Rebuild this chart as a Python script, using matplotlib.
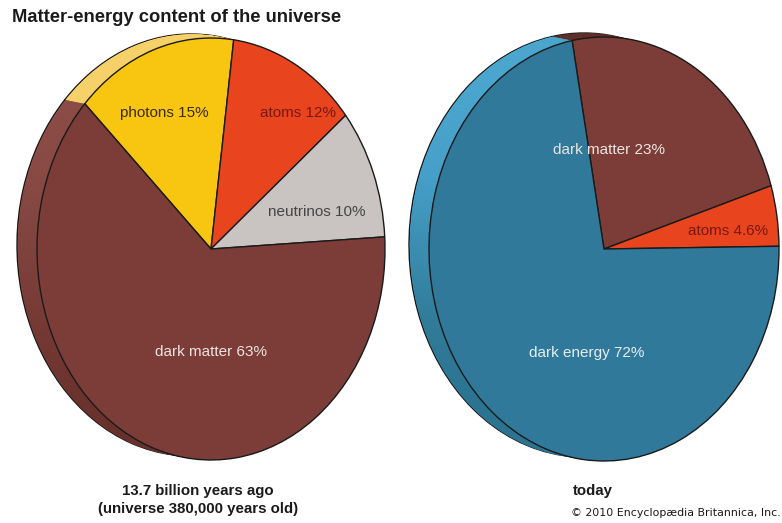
import matplotlib
matplotlib.use("Agg")
import matplotlib.pyplot as plt
import numpy as np
from matplotlib.colors import LinearSegmentedColormap

plt.rcParams['font.family'] = ['Liberation Sans', 'DejaVu Sans']

# early universe (13.7 billion years ago)
early_labels = ['photons', 'atoms', 'neutrinos', 'dark matter']
early_pct = [15, 12, 10, 63]
early_text = ['photons 15%', 'atoms 12%', 'neutrinos 10%', 'dark matter 63%']
early_face = ['#f8c611', '#e8451f', '#c9c4c1', '#7c3d38']
early_rim = ['#f6d16a', '#e8451f', '#c9c4c1', '#7a3c37']
early_txtcol = ['#3b2a12', '#7a1710', '#444444', '#ece4e0']

# today
today_labels = ['dark matter', 'atoms', 'dark energy']
today_pct = [23, 4.6, 72]
today_text = ['dark matter 23%', 'atoms 4.6%', 'dark energy 72%']
today_face = ['#7c3d38', '#e8451f', '#31799a']
today_rim = ['#5e2e28', '#e8451f', '#3a8db3']
today_txtcol = ['#ece4e0', '#7a1710', '#e6eef2']

W, H = 782, 523
fig = plt.figure(figsize=(W / 100, H / 100), dpi=100)
fig.patch.set_facecolor('white')


def pie_axes(cx, cy, a, b, lim=1.2):
    # axes placed so a unit circle becomes an ellipse with semi axes a, b (pixels)
    w, h = 2 * lim * a, 2 * lim * b
    return fig.add_axes([(cx - w / 2) / W, (H - cy - h / 2) / H, w / W, h / H])


def draw_disc(ax, vals, face, rim, start, a, b, shade_idx, shade_cols,
              off=(-20, 4), steps=24):
    dx, dy = off[0] / a, off[1] / b
    cmap = LinearSegmentedColormap.from_list('rim', shade_cols)
    grad = np.linspace(0, 1, 256).reshape(-1, 1)
    for k, i in enumerate(range(steps, 0, -1)):
        t = i / steps
        z = 1 + k * 0.01
        lw = 1.0 if i == steps else 0
        ws, _ = ax.pie(vals, colors=rim, startangle=start, counterclock=False,
                       center=(dx * t, dy * t),
                       wedgeprops=dict(edgecolor='#1a1a1a', linewidth=lw, zorder=z))
        im = ax.imshow(grad, cmap=cmap, origin='lower', aspect='auto',
                       extent=(-1.3, 1.3, -1.05, 1.05), zorder=z + 0.005)
        im.set_clip_path(ws[shade_idx])
        if i == steps:
            # keep the outer outline visible above the shading
            for w in ws:
                w.set_zorder(z + 0.008)
                w.set_facecolor('none')
            ax.pie(vals, colors=rim, startangle=start, counterclock=False,
                   center=(dx * t, dy * t),
                   wedgeprops=dict(linewidth=0, zorder=z - 0.005))
    ax.pie(vals, colors=face, startangle=start, counterclock=False,
           wedgeprops=dict(edgecolor='#1a1a1a', linewidth=1.0, zorder=2))
    ax.set_aspect('auto')
    ax.set_xlim(-1.2, 1.2)
    ax.set_ylim(-1.2, 1.2)
    ax.axis('off')


# left disc
aL, bL = 174, 211
ax1 = pie_axes(211, 249, aL, bL)
draw_disc(ax1, early_pct, early_face, early_rim, 136.5, aL, bL,
          3, ['#5c2b27', '#763a35', '#8e4f49', '#94544e'])
early_pos = [(-0.27, 0.645), (0.50, 0.645), (0.61, 0.175), (0.0, -0.49)]
for (x, y), s, c in zip(early_pos, early_text, early_txtcol):
    ax1.text(x, y, s, ha='center', va='center', fontsize=11, color=c, zorder=5)

# right disc
aR, bR = 175, 212
ax2 = pie_axes(604, 249, aR, bR)
draw_disc(ax2, today_pct, today_face, today_rim, 100.5, aR, bR,
          2, ['#24657e', '#2f7893', '#4aa5cf', '#55b4dc'])
today_pos = [(0.03, 0.467), (0.71, 0.085), (-0.10, -0.49)]
for (x, y), s, c in zip(today_pos, today_text, today_txtcol):
    ax2.text(x, y, s, ha='center', va='center', fontsize=11, color=c, zorder=5)

fig.text(12 / W, 1 - 17 / H, 'Matter-energy content of the universe',
         fontsize=13.2, fontweight='bold', color='#1a1a1a', va='center', ha='left')
fig.text(198 / W, 1 - 491 / H, '13.7 billion years ago', fontsize=10.8,
         fontweight='bold', color='#1a1a1a', ha='center', va='center')
fig.text(198 / W, 1 - 509 / H, '(universe 380,000 years old)', fontsize=10.8,
         fontweight='bold', color='#1a1a1a', ha='center', va='center')
fig.text(573 / W, 1 - 491 / H, 'today', fontsize=10.8,
         fontweight='bold', color='#1a1a1a', ha='left', va='center')
fig.text(571 / W, 1 - 513 / H, '\u00a9 2010 Encyclop\u00e6dia Britannica, Inc.',
         fontsize=7.9, color='#1a1a1a', ha='left', va='center',
         family='DejaVu Sans')

fig.savefig('out.png', dpi=100, facecolor='white')
